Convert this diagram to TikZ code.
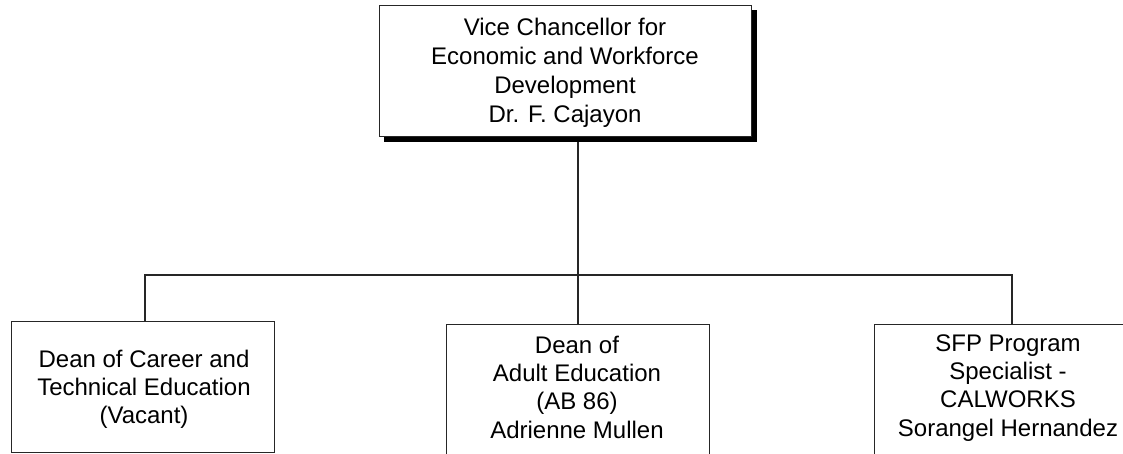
\documentclass[tikz,border=0pt]{standalone}
\usepackage{fontspec}
\setmainfont{Liberation Sans}
\begin{document}
\begin{tikzpicture}[x=1pt,y=-1pt,
  box/.style={draw=black!85,line width=1.1pt,fill=white,rectangle,inner sep=0pt,anchor=north west},
  shadowbox/.style={fill=black,rectangle,inner sep=0pt,anchor=north west},
  label/.style={align=center,inner sep=0pt,anchor=north,font=\fontsize{24}{28.3}\selectfont},
  link/.style={draw=black!85,line width=1.1pt}]
\useasboundingbox (0,0) rectangle (1123,453);
% shadow and box of the vice chancellor
\node[shadowbox,minimum width=373pt,minimum height=132pt] (vcshadow) at (384,10) {};
\node[box,minimum width=372pt,minimum height=131pt] (vc) at (379,5) {};
% department boxes
\node[box,minimum width=263pt,minimum height=131pt] (cte) at (11,321) {};
\node[box,minimum width=263pt,minimum height=150pt] (adult) at (446,324) {};
\node[box,minimum width=280pt,minimum height=150pt] (sfp) at (874,324) {};
% connectors
\coordinate (hub) at (578,275);
\coordinate (bl) at (145,275);
\coordinate (br) at (1012,275);
\draw[link] (vcshadow.south -| hub) -- (adult.north -| hub);
\draw[link] (bl |- cte.north) -- (bl) -- (br) -- (br |- sfp.north);
% texts
\node[label,font=\fontsize{24}{29.2}\selectfont] (vctext) at (565,17.8)
  {Vice Chancellor for\\Economic and Workforce\\Development\\Dr. F. Cajayon};
\node[label] (ctetext) at (144,349.8)
  {Dean of Career and\\Technical Education\\(Vacant)};
\node[label] (adulttext) at (577,335.8)
  {Dean of\\Adult Education\\(AB 86)\\Adrienne Mullen};
\node[label] (sfptext) at (1008,334.3)
  {SFP Program\\Specialist -\\CALWORKS\\Sorangel Hernandez};
\end{tikzpicture}
\end{document}
